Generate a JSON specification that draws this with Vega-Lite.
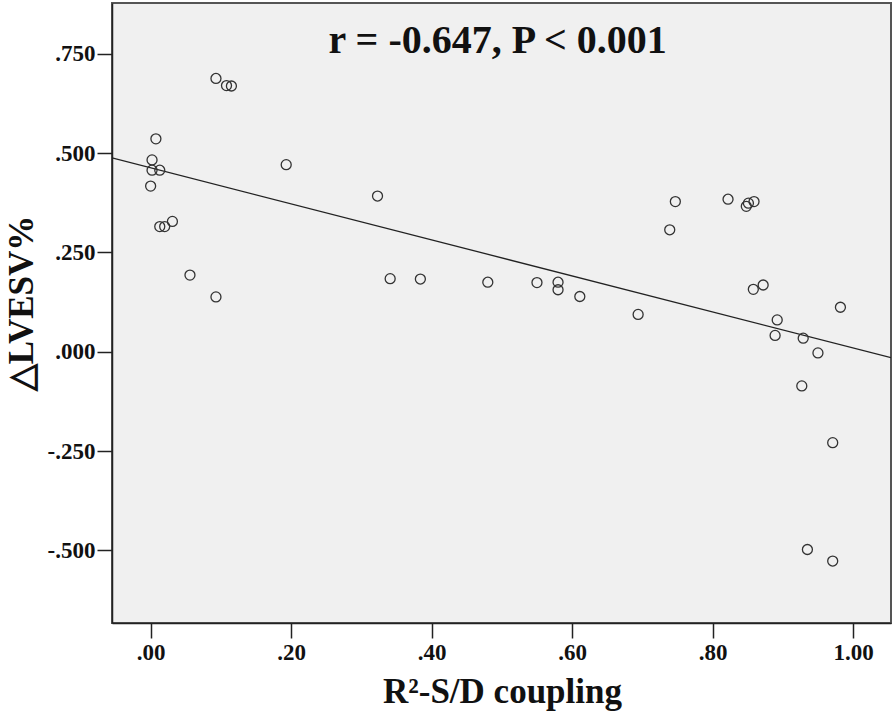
{
  "$schema": "https://vega.github.io/schema/vega-lite/v6.json",
  "autosize": "none",
  "width": 779,
  "height": 620,
  "padding": {"left": 112, "top": 3, "right": 5, "bottom": 96},
  "background": "white",
  "config": {
    "view": {"fill": "#f0f0f0", "stroke": "#555555", "strokeWidth": 2},
    "font": "Liberation Serif"
  },
  "datasets": {
    "pts": [
      {"x": 0.093, "y": 0.688}, {"x": 0.108, "y": 0.670}, {"x": 0.115, "y": 0.669},
      {"x": 0.0075, "y": 0.536}, {"x": 0.002, "y": 0.483}, {"x": 0.002, "y": 0.457},
      {"x": 0.013, "y": 0.457}, {"x": 0.000, "y": 0.417}, {"x": 0.193, "y": 0.471},
      {"x": 0.323, "y": 0.392}, {"x": 0.031, "y": 0.328}, {"x": 0.013, "y": 0.315},
      {"x": 0.020, "y": 0.315}, {"x": 0.056, "y": 0.193}, {"x": 0.093, "y": 0.138},
      {"x": 0.341, "y": 0.184}, {"x": 0.384, "y": 0.183}, {"x": 0.480, "y": 0.175},
      {"x": 0.550, "y": 0.174}, {"x": 0.580, "y": 0.175}, {"x": 0.580, "y": 0.156},
      {"x": 0.611, "y": 0.139}, {"x": 0.694, "y": 0.094}, {"x": 0.739, "y": 0.307},
      {"x": 0.747, "y": 0.378}, {"x": 0.822, "y": 0.384}, {"x": 0.848, "y": 0.366},
      {"x": 0.851, "y": 0.374}, {"x": 0.859, "y": 0.378}, {"x": 0.858, "y": 0.157},
      {"x": 0.872, "y": 0.168}, {"x": 0.982, "y": 0.112}, {"x": 0.892, "y": 0.080},
      {"x": 0.889, "y": 0.041}, {"x": 0.929, "y": 0.034}, {"x": 0.950, "y": -0.003},
      {"x": 0.927, "y": -0.086}, {"x": 0.971, "y": -0.229}, {"x": 0.935, "y": -0.498},
      {"x": 0.971, "y": -0.527}
    ],
    "fit": [
      {"x": -0.055, "y": 0.488},
      {"x": 1.054, "y": -0.015}
    ]
  },
  "layer": [
    {
      "data": {"name": "fit"},
      "mark": {"type": "line", "color": "#222222", "strokeWidth": 1.3, "clip": true},
      "encoding": {
        "x": {
          "field": "x", "type": "quantitative",
          "scale": {"domain": [-0.055, 1.054], "nice": false, "zero": false},
          "axis": {
            "values": [0, 0.2, 0.4, 0.6, 0.8, 1.0],
            "labelExpr": "datum.value >= 1 ? format(datum.value, '.2f') : substring(format(datum.value, '.2f'), 1)",
            "grid": false,
            "domain": true, "domainColor": "#222222", "domainWidth": 1.5,
            "ticks": true, "tickColor": "#222222", "tickWidth": 1.5, "tickSize": 15,
            "labelFont": "Liberation Serif", "labelFontWeight": "bold", "labelFontSize": 23,
            "labelColor": "#111111", "labelPadding": 3,
            "title": "R²-S/D coupling",
            "titleFont": "Liberation Serif", "titleFontWeight": "bold", "titleFontSize": 35,
            "titleColor": "#111111",
            "titleX": 390, "titleY": 68, "titleBaseline": "middle", "titleAlign": "center"
          }
        },
        "y": {
          "field": "y", "type": "quantitative",
          "scale": {"domain": [-0.683, 0.878], "nice": false, "zero": false},
          "axis": {
            "values": [0.75, 0.5, 0.25, 0, -0.25, -0.5],
            "labelExpr": "datum.value < 0 ? '-' + substring(format(-datum.value, '.3f'), 1) : substring(format(datum.value, '.3f'), 1)",
            "grid": false,
            "domain": true, "domainColor": "#222222", "domainWidth": 1.5,
            "ticks": true, "tickColor": "#222222", "tickWidth": 1.5, "tickSize": 15,
            "labelFont": "Liberation Serif", "labelFontWeight": "bold", "labelFontSize": 23,
            "labelColor": "#111111", "labelPadding": 2,
            "title": "△LVESV%",
            "titleFont": "Liberation Serif", "titleFontWeight": "bold", "titleFontSize": 35,
            "titleColor": "#111111",
            "titleX": -91, "titleY": 300, "titleBaseline": "middle", "titleAlign": "center", "titleAngle": -90
          }
        }
      }
    },
    {
      "data": {"name": "pts"},
      "mark": {"type": "point", "shape": "circle", "filled": false, "size": 100, "stroke": "#333333", "strokeWidth": 1.3, "opacity": 1},
      "encoding": {
        "x": {"field": "x", "type": "quantitative"},
        "y": {"field": "y", "type": "quantitative"}
      }
    },
    {
      "data": {"values": [{"label": "r = -0.647, P < 0.001"}]},
      "mark": {"type": "text", "font": "Liberation Serif", "fontWeight": "bold", "fontSize": 40, "color": "#111111", "align": "center", "baseline": "middle"},
      "encoding": {
        "x": {"datum": 0.494, "type": "quantitative"},
        "y": {"datum": 0.783, "type": "quantitative"},
        "text": {"field": "label"}
      }
    }
  ]
}
